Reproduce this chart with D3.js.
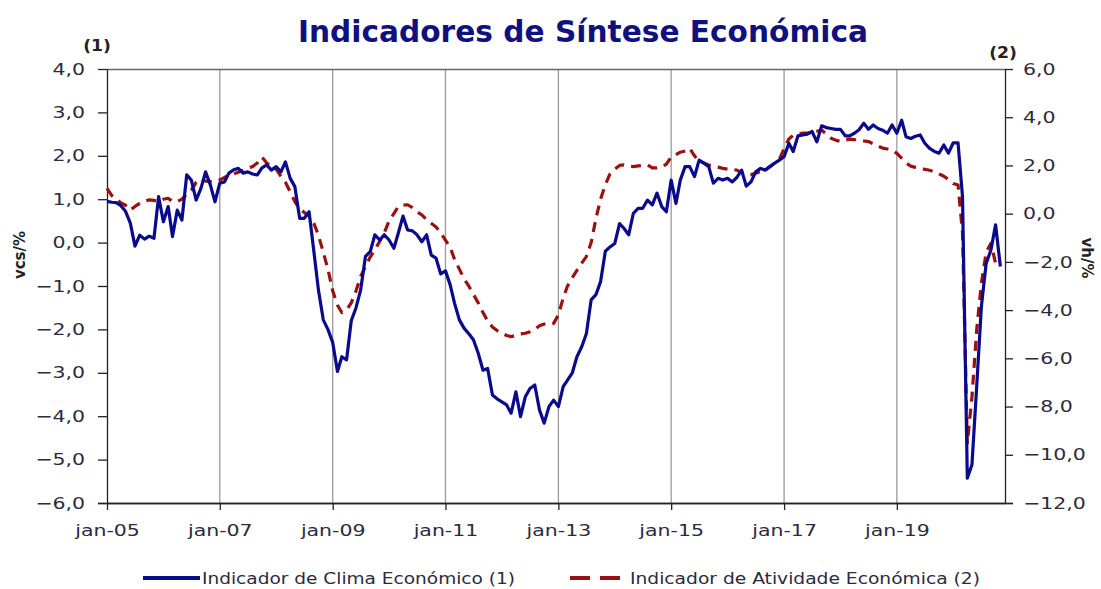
<!DOCTYPE html>
<html>
<head>
<meta charset="utf-8">
<script src="https://cdn.jsdelivr.net/npm/d3@7"></script>
<style>
  html, body { margin: 0; padding: 0; background: #fff; }
  svg text { font-family: "DejaVu Sans", Verdana, sans-serif; }
</style>
</head>
<body>
<svg id="chart" width="1101" height="589"></svg>
<script>
// ---- DATA ----
const startYear = 2005;  // first month: jan-05, monthly observations
const climaEconomico = [
  0.95,0.93,0.92,0.85,0.72,0.45,-0.08,0.17,0.08,0.15,0.10,1.06,
  0.48,0.83,0.14,0.75,0.52,1.56,1.44,0.98,1.25,1.63,1.33,0.94,
  1.37,1.40,1.60,1.68,1.71,1.60,1.63,1.58,1.56,1.72,1.79,1.67,
  1.75,1.63,1.86,1.48,1.29,0.56,0.56,0.71,-0.20,-1.10,-1.78,-2.00,
  -2.30,-2.97,-2.63,-2.70,-1.80,-1.50,-1.09,-0.32,-0.21,0.18,0.06,0.18,
  0.06,-0.13,0.21,0.61,0.29,0.27,0.18,0.02,0.18,-0.29,-0.36,-0.72,
  -0.65,-0.98,-1.40,-1.78,-1.97,-2.10,-2.24,-2.55,-2.94,-2.90,-3.51,-3.60,
  -3.67,-3.74,-3.93,-3.44,-4.01,-3.55,-3.36,-3.28,-3.86,-4.16,-3.78,-3.63,
  -3.78,-3.32,-3.17,-3.00,-2.63,-2.40,-2.10,-1.32,-1.20,-0.90,-0.20,-0.10,
  -0.02,0.44,0.33,0.18,0.67,0.79,0.79,0.98,0.87,1.14,0.83,0.71,
  1.44,0.90,1.44,1.75,1.75,1.52,1.90,1.83,1.75,1.37,1.48,1.44,
  1.48,1.40,1.50,1.67,1.30,1.40,1.63,1.71,1.67,1.75,1.83,1.90,
  1.98,2.29,2.10,2.46,2.48,2.50,2.56,2.32,2.69,2.65,2.63,2.61,
  2.61,2.46,2.46,2.52,2.60,2.75,2.61,2.71,2.63,2.59,2.52,2.71,
  2.52,2.82,2.44,2.40,2.45,2.48,2.29,2.17,2.10,2.06,2.25,2.06,
  2.30,2.30,1.06,-5.43,-5.12,-3.30,-1.48,-0.48,-0.17,0.41,-0.55
];
const atividadeEconomica = [
  1.05,0.75,0.60,0.45,0.35,0.15,0.30,0.43,0.52,0.57,0.55,0.50,
  0.60,0.64,0.50,0.50,0.60,0.80,0.98,1.30,1.45,1.35,1.33,1.33,
  1.40,1.50,1.60,1.65,1.72,1.80,1.90,1.95,2.10,2.35,2.10,1.95,
  1.85,1.55,1.30,0.90,0.50,0.20,0.05,-0.10,-0.40,-0.90,-1.60,-2.30,
  -3.20,-3.80,-4.10,-4.00,-3.70,-3.20,-2.60,-2.20,-1.80,-1.50,-1.15,-0.80,
  -0.30,0.00,0.29,0.35,0.37,0.25,0.08,-0.05,-0.25,-0.40,-0.55,-0.80,
  -1.10,-1.40,-1.90,-2.30,-2.70,-3.00,-3.35,-3.70,-4.10,-4.45,-4.70,-4.85,
  -4.96,-5.05,-5.10,-5.05,-4.99,-4.96,-4.90,-4.80,-4.65,-4.58,-4.60,-4.55,
  -4.20,-3.50,-3.00,-2.65,-2.35,-2.05,-1.78,-1.20,-0.20,0.60,1.20,1.65,
  1.85,2.00,2.02,1.98,1.95,1.98,2.00,2.02,1.90,1.90,1.95,2.05,
  2.35,2.45,2.55,2.60,2.71,2.40,2.16,2.10,2.02,1.98,1.93,1.88,
  1.85,1.82,1.81,1.70,1.62,1.62,1.68,1.75,1.81,1.95,2.10,2.25,
  2.70,3.10,3.25,3.30,3.34,3.34,3.38,3.42,3.47,3.30,3.13,3.05,
  2.99,3.05,3.09,3.07,3.06,3.02,2.99,2.90,2.80,2.72,2.68,2.64,
  2.50,2.30,2.10,1.97,1.92,1.87,1.84,1.80,1.74,1.65,1.55,1.42,
  1.25,1.19,-0.80,-9.53,-7.60,-4.80,-2.90,-1.60,-1.23,-2.06,null
];
const leftTicks = [4,3,2,1,0,-1,-2,-3,-4,-5,-6];
const rightTicks = [6,4,2,0,-2,-4,-6,-8,-10,-12];
const xTickYears = [2005,2007,2009,2011,2013,2015,2017,2019];
const gridYears = [2007,2009,2011,2013,2015,2017,2019];
const titleText = "Indicadores de Síntese Económica";
const seriesNames = ["Indicador de Clima Económico (1)", "Indicador de Atividade Económica (2)"];

// ---- CHART ----
const svg = d3.select("#chart");
const L = 107, R = 1005, T = 69, B = 503;
const SX = 1.28; // horizontal stretch of the reference lettering
const monthDate = i => new Date(startYear, i, 1);

const x = d3.scaleTime().domain([new Date(2005,0,1), new Date(2020,11,1)]).range([L, R]);
const yL = d3.scaleLinear().domain([-6, 4]).range([B, T]);
const yR = d3.scaleLinear().domain([-12, 6]).range([B, T]);
const fmt = d3.format(".1f");
const comma = v => fmt(v).replace(".", ",").replace("-0,0", "0,0");

const blue = "#0a0a8c", red = "#9b1111", textCol = "#2b2b3b";

// vertical grid lines
svg.append("g").selectAll("line").data(gridYears).join("line")
  .attr("x1", d => x(new Date(d,0,1))).attr("x2", d => x(new Date(d,0,1)))
  .attr("y1", T).attr("y2", B)
  .attr("stroke", "#9a9a9a").attr("stroke-width", 1.3);
// top border
svg.append("line").attr("x1", L).attr("x2", R).attr("y1", T + 0.5).attr("y2", T + 0.5)
  .attr("stroke", "#666").attr("stroke-width", 1.3);

// axes
const axL = svg.append("g").attr("transform", `translate(${L},0)`)
  .call(d3.axisLeft(yL).tickValues(leftTicks).tickFormat(comma).tickSize(9).tickPadding(13).tickSizeOuter(0));
const axR = svg.append("g").attr("transform", `translate(${R},0)`)
  .call(d3.axisRight(yR).tickValues(rightTicks).tickFormat(comma).tickSize(8).tickPadding(10).tickSizeOuter(0));
const axB = svg.append("g").attr("transform", `translate(0,${B})`)
  .call(d3.axisBottom(x).tickValues(xTickYears.map(y => new Date(y,0,1)))
    .tickFormat(d3.timeFormat("jan-%y")).tickSize(7).tickPadding(15).tickSizeOuter(0));
[axL, axR, axB].forEach(a => {
  a.selectAll("path.domain").attr("stroke", "#222").attr("stroke-width", 1.3);
  a.selectAll(".tick line").attr("stroke", "#222").attr("stroke-width", 1.3);
  a.selectAll("text").attr("fill", textCol).style("font-size", "16px")
    .each(function() {
      const t = d3.select(this);
      const x0 = +(t.attr("x") || 0);
      t.attr("x", 0).attr("transform", `translate(${x0},0) scale(${SX},1)`);
    });
});
// extend bottom line under left tick
svg.append("line").attr("x1", L - 9).attr("x2", R + 8).attr("y1", B + 0.5).attr("y2", B + 0.5)
  .attr("stroke", "#222").attr("stroke-width", 1.3);

// lines
const lineL = d3.line().defined(d => d != null).x((d, i) => x(monthDate(i))).y(d => yL(d));
const lineR = d3.line().defined(d => d != null).x((d, i) => x(monthDate(i))).y(d => yR(d));
svg.append("path").datum(atividadeEconomica).attr("d", lineR)
  .attr("fill", "none").attr("stroke", red).attr("stroke-width", 3.2)
  .attr("stroke-dasharray", "10,7").attr("stroke-linejoin", "round");
svg.append("path").datum(climaEconomico).attr("d", lineL)
  .attr("fill", "none").attr("stroke", blue).attr("stroke-width", 3.2).attr("stroke-linejoin", "round");

// title & labels
svg.append("text").attr("x", 298).attr("y", 42)
  .attr("textLength", 570).attr("lengthAdjust", "spacingAndGlyphs")
  .attr("fill", "#101080").style("font-size", "30px").style("font-weight", "bold").text(titleText);
svg.append("text").attr("transform", "translate(97,51) scale(1.15,1)").attr("text-anchor", "middle")
  .attr("fill", "#222").style("font-size", "15px").style("font-weight", "bold").text("(1)");
svg.append("text").attr("transform", "translate(1003,58) scale(1.15,1)").attr("text-anchor", "middle")
  .attr("fill", "#222").style("font-size", "15px").style("font-weight", "bold").text("(2)");
svg.append("text").attr("transform", "translate(25,255) rotate(-90)").attr("text-anchor", "middle")
  .attr("fill", "#222").style("font-size", "15px").style("font-weight", "bold").text("vcs/%");
svg.append("text").attr("transform", "translate(1082,258) rotate(90)").attr("text-anchor", "middle")
  .attr("fill", "#222").style("font-size", "15px").style("font-weight", "bold").text("vh/%");

// legend
const lg = svg.append("g");
lg.append("line").attr("x1", 143).attr("x2", 200).attr("y1", 578).attr("y2", 578)
  .attr("stroke", blue).attr("stroke-width", 3.8);
lg.append("text").attr("x", 202).attr("y", 584).attr("textLength", 313).attr("lengthAdjust", "spacingAndGlyphs")
  .attr("fill", textCol).style("font-size", "16px").text(seriesNames[0]);
lg.append("line").attr("x1", 570).attr("x2", 620).attr("y1", 578).attr("y2", 578)
  .attr("stroke", red).attr("stroke-width", 3.8).attr("stroke-dasharray", "20,10");
lg.append("text").attr("x", 630).attr("y", 584).attr("textLength", 350).attr("lengthAdjust", "spacingAndGlyphs")
  .attr("fill", textCol).style("font-size", "16px").text(seriesNames[1]);
</script>
</body>
</html>
